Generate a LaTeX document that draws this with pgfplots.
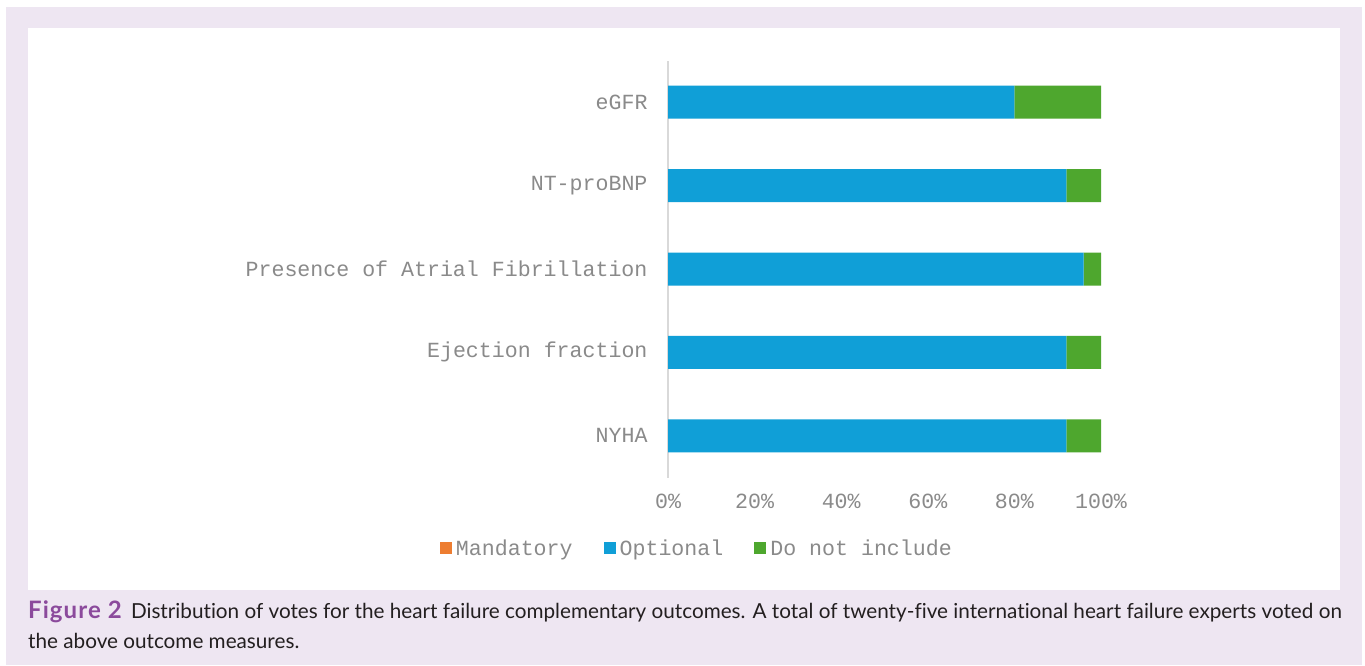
\documentclass[border=0pt]{standalone}
\usepackage{pgfplots}
\pgfplotsset{compat=1.18}
\usepackage{fontspec}
\setmainfont{Lato}
\newfontfamily\labelfont{Liberation Mono}
\newfontfamily\capfont[Ligatures={NoCommon}]{Lato}
\newfontfamily\figfont[LetterSpace=4.5]{Lato Bold}
\definecolor{lav}{HTML}{EEE6F2}
\definecolor{optblue}{HTML}{109FD7}
\definecolor{dngreen}{HTML}{4EA72E}
\definecolor{mandor}{HTML}{ED7D31}
\definecolor{lblgray}{HTML}{8A8A8A}
\definecolor{axgray}{HTML}{D9D9D9}
\definecolor{figpurple}{HTML}{8B4A9C}
\definecolor{captext}{HTML}{231F20}
\begin{document}
\begin{tikzpicture}
\fill[white] (0pt,0pt) rectangle (1365pt,-665pt);
\fill[lav] (6pt,-7pt) rectangle (1362pt,-665pt);
\fill[white] (28pt,-28pt) rectangle (1340pt,-590pt);
\begin{axis}[
  at={(668pt,-477.5pt)}, anchor=south west,
  scale only axis, width=433pt, height=417pt,
  xbar stacked, bar width=33pt,
  xmin=0, xmax=100, ymin=-0.5, ymax=4.5,
  axis lines*=left,
  x axis line style={draw=none},
  y axis line style={draw=axgray, line width=1.5pt},
  major tick length=0pt,
  xtick={0,20,40,60,80,100},
  xticklabels={0\%,20\%,40\%,60\%,80\%,100\%},
  ytick={0,1,2,3,4},
  yticklabels={NYHA,Ejection fraction,Presence of Atrial Fibrillation,NT-proBNP,eGFR},
  tick label style={font=\labelfont\fontsize{21.6}{25}\selectfont, text=lblgray},
  xticklabel style={yshift=-13pt},
  yticklabel style={xshift=-17pt},
  legend columns=3,
  legend style={draw=none, fill=none, inner sep=0pt, outer sep=0pt,
    at={(axis description cs:-0.5266,-0.169)}, anchor=west,
    font=\labelfont\fontsize{21.6}{25}\selectfont, text=lblgray,
    nodes={inner sep=0pt},
    /tikz/every odd column/.append style={column sep=4pt},
    /tikz/every even column/.append style={column sep=31pt}},
  legend image code/.code={\fill[#1] (0pt,-6pt) rectangle (12pt,6pt);},
]
\addplot[fill=mandor, draw=none] coordinates {(0,0) (0,1) (0,2) (0,3) (0,4)};
\addplot[fill=optblue, draw=none] coordinates {(92,0) (92,1) (96,2) (92,3) (80,4)};
\addplot[fill=dngreen, draw=none] coordinates {(8,0) (8,1) (4,2) (8,3) (20,4)};
\legend{Mandatory,Optional,Do not include}
\end{axis}
\node[anchor=base west, inner sep=0pt, text=captext,
  font=\capfont\fontsize{20.7}{29}\selectfont] at (28pt,-618pt)
  {{\figfont\fontsize{24}{29}\selectfont\color{figpurple}Figure 2}\hspace{4pt} Distribution of votes for the heart failure complementary outcomes. A total of twenty-five international heart failure experts voted on};
\node[anchor=base west, inner sep=0pt, text=captext,
  font=\capfont\fontsize{20.7}{29}\selectfont] at (28pt,-648pt)
  {the above outcome measures.};
\end{tikzpicture}
\end{document}
